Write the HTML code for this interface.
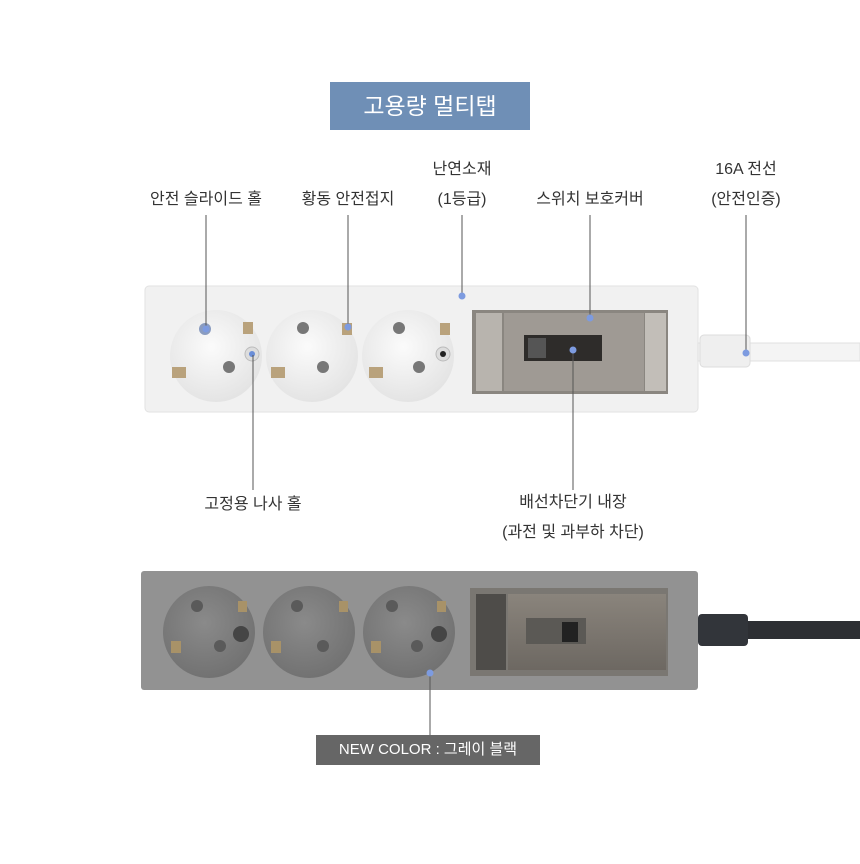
<!DOCTYPE html>
<html><head><meta charset="utf-8"><style>
body{margin:0;width:860px;height:864px;background:#fff;position:relative;overflow:hidden;font-family:"Liberation Sans","Noto Sans CJK KR",sans-serif;}
.t{position:absolute;font-size:16px;color:#333;text-align:center;width:200px;line-height:30px;}
</style></head><body>
<svg width="860" height="864" style="position:absolute;left:0;top:0">
<defs>
<radialGradient id="ws" cx="45%" cy="40%" r="60%"><stop offset="0" stop-color="#fbfbfb"/><stop offset="1" stop-color="#e4e4e4"/></radialGradient>
<radialGradient id="gs" cx="45%" cy="40%" r="60%"><stop offset="0" stop-color="#8a8a8a"/><stop offset="1" stop-color="#727272"/></radialGradient>
<linearGradient id="cv" x1="0" y1="0" x2="0" y2="1"><stop offset="0" stop-color="#8a847c"/><stop offset="1" stop-color="#6d6862"/></linearGradient>
</defs>
<!-- title -->
<rect x="330" y="82" width="200" height="48" fill="#6f8fb6"/>
<!-- white strip -->
<rect x="145" y="286" width="553" height="126" rx="4" fill="#f1f1f1" stroke="#e2e2e2"/>
<rect x="698" y="343" width="162" height="18" fill="#f4f4f4" stroke="#e0e0e0"/>
<rect x="700" y="335" width="50" height="32" rx="4" fill="#efefef" stroke="#dcdcdc"/>
<g id="w">
<circle cx="216" cy="356" r="46" fill="url(#ws)"/>
<circle cx="312" cy="356" r="46" fill="url(#ws)"/>
<circle cx="408" cy="356" r="46" fill="url(#ws)"/>
</g>
<g fill="#777">
<circle cx="205" cy="329" r="6" fill="#8a9cc0"/><circle cx="229" cy="367" r="6"/>
<circle cx="303" cy="328" r="6"/><circle cx="323" cy="367" r="6"/>
<circle cx="399" cy="328" r="6"/><circle cx="419" cy="367" r="6"/>
</g>
<circle cx="252" cy="354" r="7" fill="#ddd" stroke="#bbb"/><circle cx="252" cy="354" r="3" fill="#6a8ed8"/>
<circle cx="443" cy="354" r="7" fill="#ddd" stroke="#bbb"/><circle cx="443" cy="354" r="3" fill="#222"/>
<g fill="#b9a27c">
<rect x="243" y="322" width="10" height="12"/><rect x="172" y="367" width="14" height="11"/>
<rect x="342" y="323" width="10" height="12"/><rect x="271" y="367" width="14" height="11"/>
<rect x="440" y="323" width="10" height="12"/><rect x="369" y="367" width="14" height="11"/>
</g>
<rect x="472" y="310" width="196" height="84" fill="#8a8680"/>
<rect x="476" y="313" width="26" height="78" fill="#b8b4ae"/>
<rect x="504" y="313" width="140" height="78" fill="#9f9a94"/>
<rect x="645" y="313" width="21" height="78" fill="#c2beb8"/>
<rect x="524" y="335" width="78" height="26" fill="#2e2c2a"/>
<rect x="528" y="338" width="18" height="20" fill="#555"/>
<!-- gray strip -->
<rect x="141" y="571" width="557" height="119" rx="3" fill="#929292"/>
<rect x="698" y="621" width="162" height="18" fill="#2d2f33"/>
<rect x="698" y="614" width="50" height="32" rx="4" fill="#32353a"/>
<circle cx="209" cy="632" r="46" fill="url(#gs)"/>
<circle cx="309" cy="632" r="46" fill="url(#gs)"/>
<circle cx="409" cy="632" r="46" fill="url(#gs)"/>
<g fill="#5a5a5a">
<circle cx="197" cy="606" r="6"/><circle cx="220" cy="646" r="6"/><circle cx="241" cy="634" r="8" fill="#454545"/>
<circle cx="297" cy="606" r="6"/><circle cx="323" cy="646" r="6"/>
<circle cx="392" cy="606" r="6"/><circle cx="417" cy="646" r="6"/><circle cx="439" cy="634" r="8" fill="#454545"/>
</g>
<g fill="#a89268">
<rect x="238" y="601" width="9" height="11"/><rect x="171" y="641" width="10" height="12"/>
<rect x="339" y="601" width="9" height="11"/><rect x="271" y="641" width="10" height="12"/>
<rect x="437" y="601" width="9" height="11"/><rect x="371" y="641" width="10" height="12"/>
</g>
<rect x="470" y="588" width="198" height="88" fill="#7a7772"/>
<rect x="476" y="594" width="30" height="76" fill="#4e4c49"/>
<rect x="508" y="594" width="158" height="76" fill="url(#cv)"/>
<rect x="526" y="618" width="60" height="26" fill="#5b5955"/>
<rect x="562" y="622" width="16" height="20" fill="#222"/>
<!-- lines -->
<g stroke="#555" stroke-width="1">
<line x1="206" y1="215" x2="206" y2="328"/>
<line x1="348" y1="215" x2="348" y2="327"/>
<line x1="462" y1="215" x2="462" y2="296"/>
<line x1="590" y1="215" x2="590" y2="318"/>
<line x1="746" y1="215" x2="746" y2="352"/>
<line x1="253" y1="355" x2="253" y2="490"/>
<line x1="573" y1="350" x2="573" y2="490"/>
<line x1="430" y1="673" x2="430" y2="736"/>
</g>
<g fill="#7d9be0">
<circle cx="206" cy="329" r="3.5"/><circle cx="348" cy="327" r="3.5"/><circle cx="462" cy="296" r="3.5"/>
<circle cx="590" cy="318" r="3.5"/><circle cx="746" cy="353" r="3.5"/><circle cx="573" cy="350" r="3.5"/><circle cx="430" cy="673" r="3.5"/>
</g>
<rect x="316" y="735" width="224" height="30" fill="#666"/>
</svg>
<div class="t" style="left:330px;top:88px;color:#fff;font-size:23px;line-height:36px;">고용량 멀티탭</div>
<div class="t" style="left:106px;top:185px;">안전 슬라이드 홀</div>
<div class="t" style="left:248px;top:185px;">황동 안전접지</div>
<div class="t" style="left:362px;top:155px;">난연소재<br>(1등급)</div>
<div class="t" style="left:490px;top:185px;">스위치 보호커버</div>
<div class="t" style="left:646px;top:155px;">16A 전선<br>(안전인증)</div>
<div class="t" style="left:153px;top:490px;">고정용 나사 홀</div>
<div class="t" style="left:473px;top:488px;">배선차단기 내장<br>(과전 및 과부하 차단)</div>
<div class="t" style="left:316px;top:735px;width:224px;color:#fff;font-size:15px;">NEW COLOR : 그레이 블랙</div>
</body></html>
